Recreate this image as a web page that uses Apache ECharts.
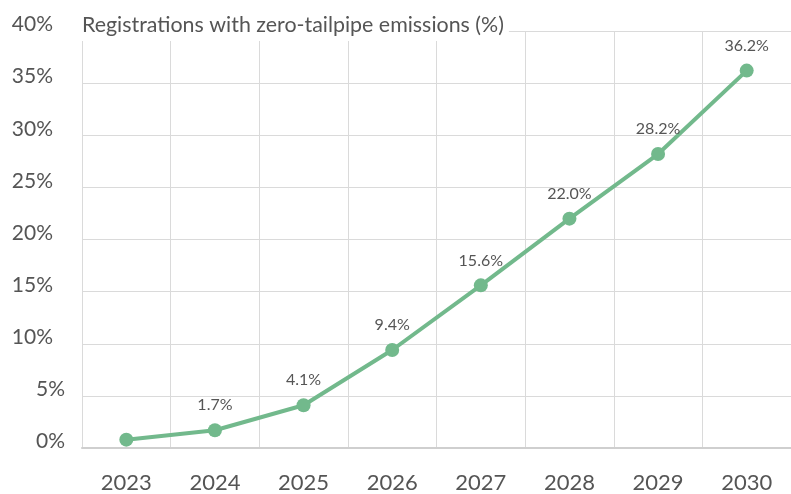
<!DOCTYPE html>
<html>
<head>
<meta charset="utf-8">
<script src="https://cdn.jsdelivr.net/npm/echarts@6/dist/echarts.min.js"></script>
<style>
  html, body { margin: 0; padding: 0; background: #fff; }
  #chart { width: 791px; height: 494px; }
</style>
</head>
<body>
<div id="chart"></div>
<script>
// Share of new registrations with zero tailpipe emissions, by year
const years = ['2023', '2024', '2025', '2026', '2027', '2028', '2029', '2030'];
const zeroEmissionShare = [0.8, 1.7, 4.1, 9.4, 15.6, 22.0, 28.2, 36.2];
const labelledFrom = 1; // first year gets no value label

const FONT = 'Lato, "Noto Sans", sans-serif';
const WEIGHT = 'normal';
const TEXT = '#555555';
const GREEN = '#72b98c';
const GRID = '#dadada';

const chart = echarts.init(document.getElementById('chart'), null, { renderer: 'canvas' });

chart.setOption({
  animation: false,
  backgroundColor: '#fff',
  title: {
    text: 'Registrations with zero-tailpipe emissions (%)',
    left: 80,
    top: 8,
    padding: [5, 5, 3, 2],
    backgroundColor: '#fff',
    textStyle: { fontFamily: FONT, fontSize: 21.4, fontWeight: WEIGHT, color: TEXT, lineHeight: 25 }
  },
  grid: { left: 82, right: 0, top: 31, bottom: 43, containLabel: false },
  xAxis: {
    type: 'category',
    data: years,
    boundaryGap: true,
    axisLine: { show: true, lineStyle: { color: '#cfcfcf', width: 2 } },
    axisTick: { show: false },
    splitLine: { show: true, lineStyle: { color: GRID, width: 1 } },
    axisLabel: { margin: 24, fontFamily: FONT, fontSize: 22, fontWeight: WEIGHT, color: TEXT }
  },
  yAxis: {
    type: 'value',
    min: 0,
    max: 40,
    interval: 5,
    axisLine: { show: false },
    axisTick: { show: false },
    splitLine: { show: true, lineStyle: { color: GRID, width: 1 } },
    axisLabel: {
      margin: 17,
      align: 'right',
      verticalAlign: 'middle',
      fontFamily: FONT,
      fontSize: 21,
      fontWeight: WEIGHT,
      color: TEXT,
      formatter: v => (v >= 10 ? '{two|' : '{one|') + v + '%}',
      rich: {
        one: { fontFamily: FONT, fontSize: 21, fontWeight: WEIGHT, color: TEXT, padding: [0, 0, 13, 0] },
        two: { fontFamily: FONT, fontSize: 21, fontWeight: WEIGHT, color: TEXT, padding: [0, 12, 13, 0] }
      }
    }
  },
  series: [{
    type: 'line',
    data: zeroEmissionShare.map((v, i) => ({ value: v, label: { show: i >= labelledFrom } })),
    symbol: 'circle',
    symbolSize: 14,
    lineStyle: { color: GREEN, width: 4 },
    itemStyle: { color: GREEN },
    label: {
      show: true,
      position: 'top',
      distance: 10,
      fontFamily: FONT,
      fontSize: 16,
      fontWeight: WEIGHT,
      color: TEXT,
      formatter: p => p.value.toFixed(1) + '%'
    },
    z: 3
  }]
});
</script>
</body>
</html>
